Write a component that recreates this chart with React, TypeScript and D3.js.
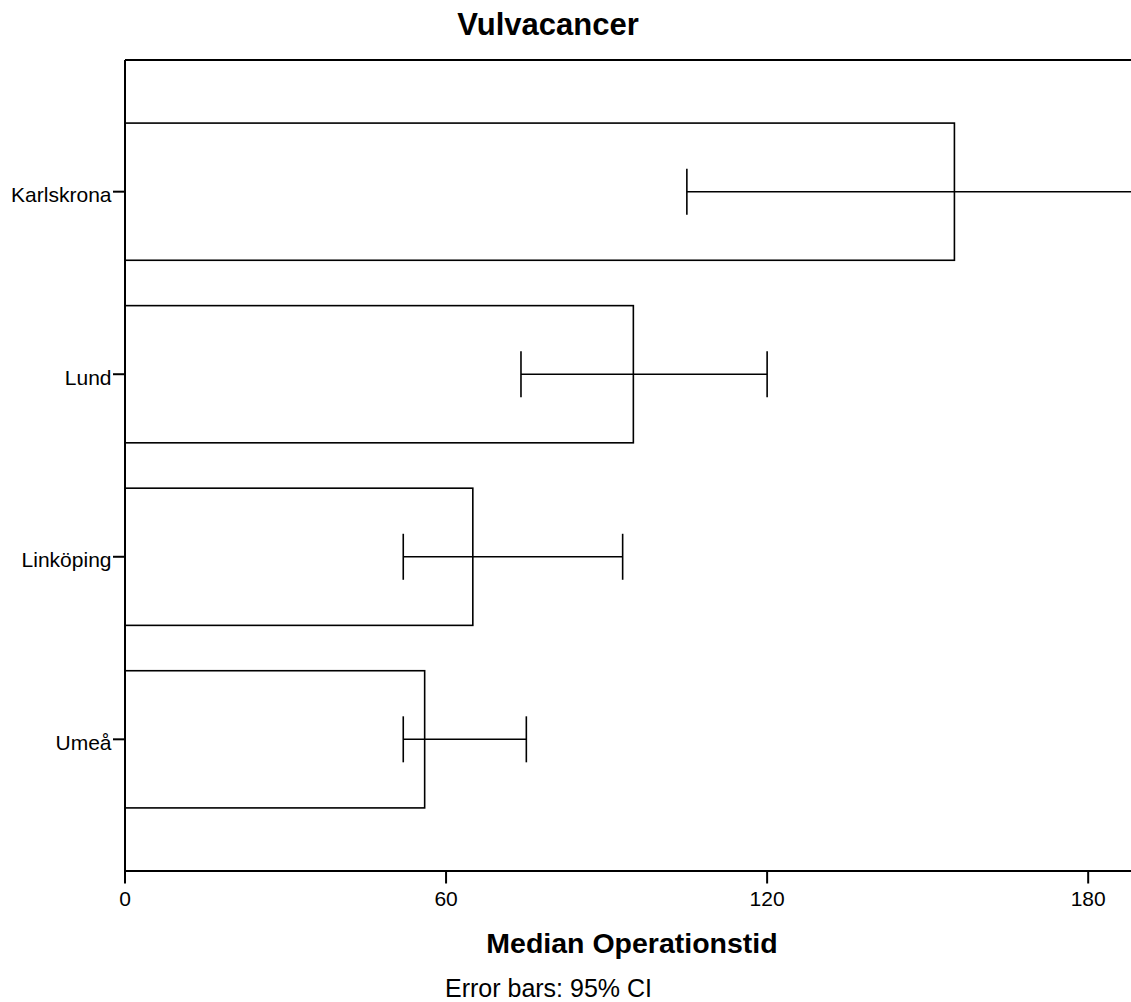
import React from "react";
import * as d3 from "d3";

// Median operation time per hospital, with 95% confidence intervals
const hospitals = ["Karlskrona", "Lund", "Linköping", "Umeå"];
const medianTime = [155, 95, 65, 56];
const ciLower = [105, 74, 52, 52];
const ciUpper = [205, 120, 93, 75];
const xTicks = [0, 60, 120, 180];

const W = 1131;
const H = 1002;
const margin = { top: 60, right: 0, bottom: 131, left: 125 };
const FONT = "'Liberation Sans', Arial, Helvetica, sans-serif";

export default function App() {
  const x = d3
    .scaleLinear()
    .domain([0, 188])
    .range([margin.left, W - margin.right]);
  const y = d3
    .scaleBand<string>()
    .domain(hospitals)
    .range([margin.top, H - margin.bottom])
    .paddingInner(0.2485)
    .paddingOuter(0.3456);

  const x0 = x(0);
  const yBottom = H - margin.bottom;
  const capHalf = 23;
  const rows = hospitals.map((h, i) => ({
    name: h,
    value: medianTime[i],
    lo: ciLower[i],
    hi: ciUpper[i],
  }));

  return (
    <svg
      width={W}
      height={H}
      style={{ position: "absolute", left: 0, top: 0, background: "#fff" }}
      fontFamily={FONT}
    >
      <defs>
        <clipPath id="plotClip">
          <rect x={margin.left} y={margin.top - 2} width={W - margin.left} height={yBottom - margin.top + 4} />
        </clipPath>
      </defs>

      {/* title */}
      <text x={548} y={35} textAnchor="middle" fontSize={31} fontWeight="bold" fill="#000">
        Vulvacancer
      </text>

      {/* bars and error bars */}
      <g clipPath="url(#plotClip)">
        {rows.map((r) => {
          const yb = y(r.name)!;
          const yc = yb + y.bandwidth() / 2;
          return (
            <g key={r.name}>
              <rect
                x={x0}
                y={yb}
                width={x(r.value) - x0}
                height={y.bandwidth()}
                fill="#fff"
                stroke="#000"
                strokeWidth={1.6}
              />
              <line x1={x(r.lo)} x2={x(r.hi)} y1={yc} y2={yc} stroke="#000" strokeWidth={1.6} />
              <line x1={x(r.lo)} x2={x(r.lo)} y1={yc - capHalf} y2={yc + capHalf} stroke="#000" strokeWidth={1.6} />
              <line x1={x(r.hi)} x2={x(r.hi)} y1={yc - capHalf} y2={yc + capHalf} stroke="#000" strokeWidth={1.6} />
            </g>
          );
        })}
      </g>

      {/* frame: top and left lines, x axis */}
      <line x1={x0} x2={W} y1={margin.top} y2={margin.top} stroke="#000" strokeWidth={2} />
      <line x1={x0} x2={x0} y1={margin.top} y2={yBottom} stroke="#000" strokeWidth={2} />
      <line x1={x0} x2={W} y1={yBottom} y2={yBottom} stroke="#000" strokeWidth={2} />

      {/* x ticks */}
      {xTicks.map((t) => (
        <g key={t} transform={`translate(${x(t)},${yBottom})`}>
          <line y1={0} y2={12.5} stroke="#000" strokeWidth={2} />
          <text y={35} textAnchor="middle" fontSize={21} fill="#000">
            {t}
          </text>
        </g>
      ))}

      {/* y ticks */}
      {hospitals.map((h) => {
        const yc = y(h)! + y.bandwidth() / 2;
        return (
          <g key={h} transform={`translate(${x0},${yc})`}>
            <line x1={-12} x2={0} stroke="#000" strokeWidth={2} />
            <text x={-13.5} y={10.5} textAnchor="end" fontSize={21} fill="#000">
              {h}
            </text>
          </g>
        );
      })}

      {/* axis title and note */}
      <text x={632} y={953} textAnchor="middle" fontSize={28.5} fontWeight="bold" fill="#000">
        Median Operationstid
      </text>
      <text x={548.5} y={997} textAnchor="middle" fontSize={25} fill="#000">
        Error bars: 95% CI
      </text>
    </svg>
  );
}
